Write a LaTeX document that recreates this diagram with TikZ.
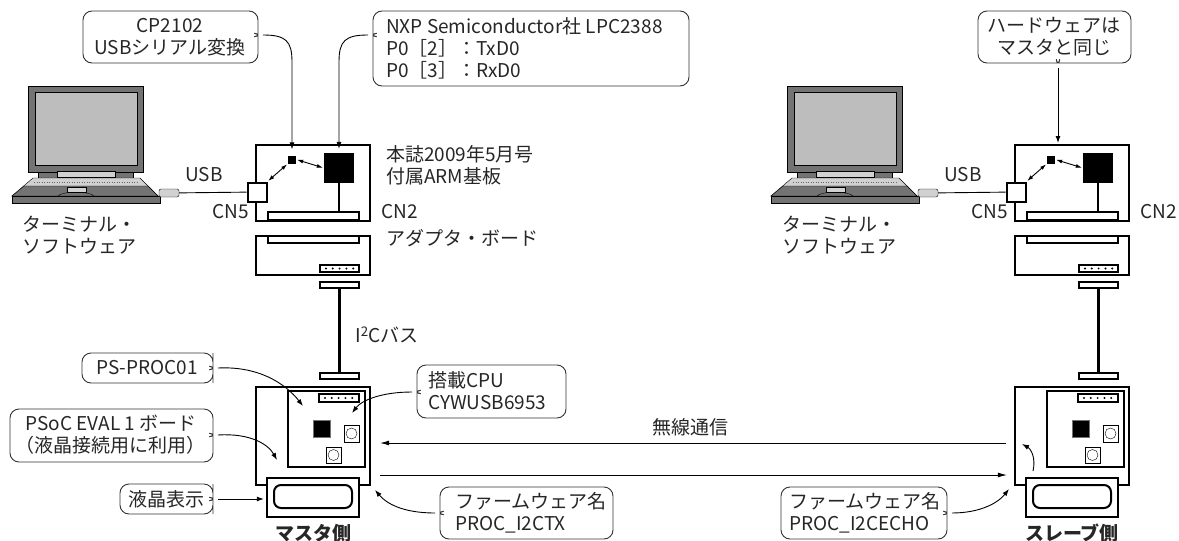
\documentclass[tikz,border=0pt]{standalone}
\usepackage{fontspec}
\setmainfont{Noto Sans CJK JP}
\usetikzlibrary{arrows.meta,positioning}

\definecolor{lapdark}{gray}{0.45}
\definecolor{lapscreen}{gray}{0.74}
\definecolor{laplight}{gray}{0.82}

\tikzset{
  board/.style={draw, line width=2.4pt, fill=white, inner sep=0pt},
  part/.style={draw, line width=1.5pt, fill=white, inner sep=0pt},
  callout/.style={draw=black!80, line width=0.9pt, rounded corners=9pt},
  note/.style={font=\fontsize{19}{22}\selectfont, text=black!85, inner sep=0pt},
  pointer/.style={-{Latex[length=7pt,width=5pt]}, line width=0.9pt},
  duplex/.style={{Latex[length=6pt,width=4pt]}-{Latex[length=6pt,width=4pt]}, line width=0.9pt},
  radio/.style={-{Latex[length=9pt,width=5pt]}, line width=0.8pt},
}

% balloon outlines: name, x1, y1, x2, y2, position of the notch
\newcommand{\calloutR}[6]{%
  \draw[callout] ({(#2+#4)/2},#3) -- (#4,#3) -- (#4,#6-6)
    .. controls (#4,#6-1) .. (#4+5,#6) .. controls (#4,#6+1) .. (#4,#6+6)
    -- (#4,#5) -- (#2,#5) -- (#2,#3) -- cycle;
  \coordinate (#1) at (#4+5,#6);}
\newcommand{\calloutL}[6]{%
  \draw[callout] ({(#2+#4)/2},#3) -- (#4,#3) -- (#4,#5) -- (#2,#5) -- (#2,#6+6)
    .. controls (#2,#6+1) .. (#2-5,#6) .. controls (#2,#6-1) .. (#2,#6-6)
    -- (#2,#3) -- cycle;
  \coordinate (#1) at (#2-5,#6);}
\newcommand{\calloutB}[6]{%
  \draw[callout] ({(#2+#4)/2},#3) -- (#4,#3) -- (#4,#5) -- (#6+6,#5)
    .. controls (#6+1,#5) .. (#6,#5+5) .. controls (#6-1,#5) .. (#6-6,#5)
    -- (#2,#5) -- (#2,#3) -- cycle;
  \coordinate (#1) at (#6,#5+5);}

\begin{document}
\begin{tikzpicture}[x=1pt, y=-1pt]
\useasboundingbox (0,0) rectangle (1179,541);

% both stations use the same hardware
\foreach \dx/\side in {0/マスタ側, 759/スレーブ側}{
\begin{scope}[xshift=\dx]
  % notebook PC
  \draw[fill=lapdark] (28,86) rectangle (143,172);
  \draw[fill=lapscreen] (35,92) rectangle (137,165);
  \draw[fill=lapdark] (38,172) rectangle (133,178);
  \draw[fill=laplight] (57,171) rectangle (115,177);
  \draw[fill=laplight] (33,178) -- (140,178) -- (158,196) -- (12,196) -- cycle;
  \draw[dash pattern=on 1pt off 1.5pt, black!60] (34,182) -- (139,182);
  \draw[fill=lapdark] (24,186) -- (148,186) -- (158,196) -- (12,196) -- cycle;
  \draw[fill=laplight] (67,187) rectangle (86,192);
  \draw (58,196) .. controls (62,191) and (90,191) .. (94,196);
  \draw[fill=lapdark] (12,196) rectangle (160,203);
  \node[draw, fill=laplight, rounded corners=2pt, minimum width=20pt,
    minimum height=8pt, inner sep=0pt] (plug\dx) at (169,193) {};
  \node[note, align=center] (term\dx) at (80,235) {ターミナル・\\ソフトウェア};

  % ARM board
  \draw[board] (256,145) rectangle (370,221);
  \draw[part] (268,212) rectangle (359,220);
  \node[fill, minimum size=30pt, inner sep=0pt] (lpc\dx) at (339,168) {};
  \draw[line width=2.5pt] (lpc\dx.south) -- (339,212);
  \node[fill, minimum size=8pt, inner sep=0pt] (cp\dx) at (292,159.5) {};
  \node[draw, line width=2pt, fill=white, minimum size=19pt, inner sep=0pt] (cnfive\dx) at (257,192) {};
  \draw[duplex, shorten <=1pt, shorten >=1pt] (cnfive\dx.north east) -- (cp\dx.south west);
  \draw[duplex, shorten <=1pt, shorten >=1pt] (cp\dx.east) -- (lpc\dx.west);
  \draw[line width=0.9pt] (plug\dx) -- (cnfive\dx);
  \node[note] (usb\dx) at (204,175) {USB};
  \node[note, anchor=east] (cnfivelbl\dx) at (249,212) {CN5};
  \node[note, anchor=east] (cntwolbl\dx) at (418,212) {CN2};

  % adapter board
  \draw[board] (256,236) rectangle (370,275);
  \draw[part] (268,236) rectangle (359,243);
  \draw[part] (320,265) rectangle (359,272);
  \foreach \i in {0,...,4} \fill (326+6.8*\i,268.5) circle (1.1pt);
  \node[part, minimum width=39pt, minimum height=6pt] (plugtop\dx) at (339.5,285) {};
  \node[part, minimum width=39pt, minimum height=6pt] (plugbot\dx) at (339.5,376) {};
  \draw[line width=3pt] (plugtop\dx) -- (plugbot\dx);

  % PSoC EVAL1 with the PS-PROC01 module
  \node[board, minimum width=114pt, minimum height=98pt] (psoc\dx) at (313,436) {};
  \draw[line width=2pt] (288,391) rectangle (365,467);
  \draw[part] (319,394) rectangle (359,402);
  \foreach \i in {0,...,4} \fill (325+6.8*\i,398) circle (1.1pt);
  \node[fill, draw=black!55, line width=1pt, minimum size=17pt, inner sep=0pt] (rf\dx) at (322,429) {};
  \draw[line width=1pt] (344,425) rectangle (359,442);
  \draw (351.5,433.5) circle (5.5);
  \draw[line width=1pt] (326,447) rectangle (341,463);
  \draw (333.5,455) circle (5.5);

  % LCD
  \node[board, minimum width=92pt, minimum height=39pt] (lcd\dx) at (313,497.5) {};
  \draw[line width=2pt, rounded corners=7pt] (274,485) rectangle (352,508);
  \node[note, font=\bfseries\fontsize{19}{22}\selectfont] (side\dx) at (313,533) {\side};
\end{scope}}

\node[note, align=left, anchor=west] (armlbl) at (386,165) {本誌2009年5月号\\付属ARM基板};
\node[note, anchor=west] (adaptlbl) at (386,238) {アダプタ・ボード};
\node[note, anchor=west] (buslbl) at (355,335) {I\textsuperscript{2}Cバス};

% wireless link
\draw[radio, shorten <=8pt, shorten >=9pt] ([yshift=-7pt]psoc759.west) -- ([yshift=-7pt]psoc0.east);
\draw[radio, shorten <=9pt, shorten >=7pt] ([yshift=-39pt]psoc0.east) -- ([yshift=-39pt]psoc759.west);
\node[note] (airlbl) at (690,427) {無線通信};

% balloons
\calloutR{cpnote}{83}{11}{258}{63}{35}
\node[note, align=center] (cptext) at (170,37) {CP2102\\USBシリアル変換};
\draw[pointer, shorten >=6pt] (cpnote) .. controls (286,35) and (292,41) .. (292,62) -- (cp0.north);

\calloutL{nxpnote}{373}{11}{689}{86}{35}
\node[note, align=left, anchor=west] (nxptext) at (386,48)
  {NXP Semiconductor社 LPC2388\\P0［2］：TxD0\\P0［3］：RxD0};
\draw[pointer, shorten >=4pt] (nxpnote) .. controls (345,35) and (339,41) .. (339,62) -- (lpc0.north);

\calloutB{samenote}{978}{11}{1131}{63}{1058}
\node[note, align=center] (sametext) at (1054,37) {ハードウェアは\\マスタと同じ};
\coordinate (slavetop) at (1058,143);
\draw[pointer] (samenote) -- (slavetop);

\calloutR{procnote}{82}{353}{213}{383}{368}
\node[note] (proctext) at (147,368) {PS-PROC01};
\coordinate (proctip) at (303,406);
\draw[pointer] (procnote) .. controls (258,366) and (285,383) .. (proctip);

\calloutR{evalnote}{10}{409}{213}{462}{435}
\node[note, align=center] (evaltext) at (111,435) {PSoC EVAL 1 ボード\\（液晶接続用に利用）};
\coordinate (evaltip) at (277,460);
\draw[pointer] (evalnote) .. controls (250,433) and (268,444) .. (evaltip);

\calloutR{lcdnote}{120}{484}{213}{514}{499}
\node[note] (lcdtext) at (166,499) {液晶表示};
\draw[pointer, shorten >=2pt] (lcdnote) -- (lcdnote -| lcd0.west);

\calloutL{cpunote}{417}{365}{566}{418}{392}
\node[note, align=left, anchor=west] (cputext) at (428,391) {搭載CPU\\CYWUSB6953};
\coordinate (cputip) at (352,413);
\draw[pointer] (cpunote) .. controls (382,392) and (362,400) .. (cputip);

\calloutL{txnote}{440}{487}{613}{539}{513}
\node[note, align=left, anchor=west] (txtext) at (455,513) {ファームウェア名\\PROC\_I2CTX};
\coordinate (txtip) at (375,490);
\draw[pointer] (txnote) .. controls (402,513) and (386,503) .. (txtip);

\calloutR{echonote}{781}{487}{947}{539}{513}
\node[note, align=left, anchor=west] (echotext) at (789,513) {ファームウェア名\\PROC\_I2CECHO};
\coordinate (echotip) at (1009,489);
\draw[pointer] (echonote) .. controls (980,513) and (998,503) .. (echotip);

\coordinate (echofrom) at (1033,471);
\coordinate (echoin) at (1022,444);
\draw[pointer] (echofrom) .. controls (1036,458) and (1031,449) .. (echoin);
\end{tikzpicture}
\end{document}
